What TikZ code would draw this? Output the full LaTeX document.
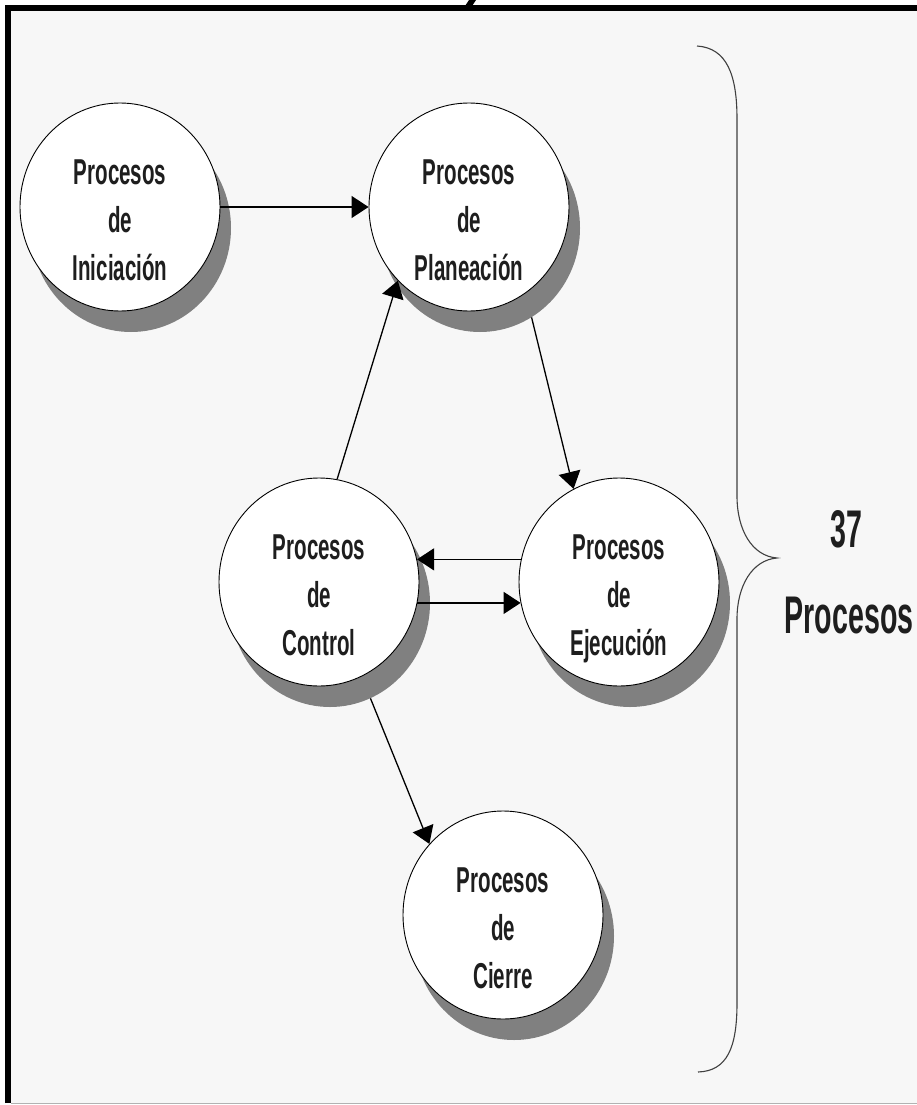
\documentclass[tikz,border=0pt]{standalone}
\usepackage{fontspec}
\newfontfamily\narrowbold[FakeStretch=0.57]{Liberation Sans}
\newfontfamily\bracefont[FakeStretch=0.54]{Liberation Sans}
\usetikzlibrary{arrows.meta,shapes.geometric}
\definecolor{paper}{HTML}{F7F7F7}
\definecolor{shade}{HTML}{808080}
\definecolor{ink}{HTML}{1E1E1E}
\begin{document}
\begin{tikzpicture}[x=1pt,y=-1pt,
  procbox/.style={ellipse, draw=black, line width=0.9pt, fill=white,
    minimum width=200pt, minimum height=208pt, inner sep=0pt},
  shadowbox/.style={ellipse, fill=shade, minimum width=200pt,
    minimum height=208pt, inner sep=0pt},
  flow/.style={line width=1.3pt, -{Triangle[length=17pt,width=22pt]}},
  proclabel/.style={font=\narrowbold\bfseries\fontsize{36}{48}\selectfont,
    text=ink, align=center, text depth=0pt, inner sep=0pt},
  bigtext/.style={font=\bracefont\bfseries\fontsize{53}{60}\selectfont,
    text=ink, inner sep=0pt, anchor=base}
]
\useasboundingbox (0,0) rectangle (917,1105);

% page and frame
\fill[white] (0,0) rectangle (917,1105);
\fill[paper] (8,8) rectangle (917,1103);
\draw[line width=6pt] (8,1103) -- (8,8) -- (917,8);
\draw[gray!60, line width=1pt] (11,1103) -- (917,1103);
\fill (469,0) -- (476,0) -- (472,6) -- (465,6) -- cycle;

% drop shadows
\node[shadowbox] (ini-sh)    at (131,228) {};
\node[shadowbox] (plan-sh)   at (480,228) {};
\node[shadowbox] (ctrl-sh)   at (330,603) {};
\node[shadowbox] (ejec-sh)   at (630,603) {};
\node[shadowbox] (cierre-sh) at (514,936) {};

% process groups
\node[procbox, label={[proclabel, yshift=-13pt]center:{Procesos\\de\\Iniciación}}] (ini) at (120,207) {};
\node[procbox, label={[proclabel, yshift=-13pt]center:{Procesos\\de\\Planeación}}] (plan) at (469,207) {};
\node[procbox, label={[proclabel, yshift=-13pt]center:{Procesos\\de\\Control}}] (ctrl) at (319,582) {};
\node[procbox, label={[proclabel, yshift=-13pt]center:{Procesos\\de\\Ejecución}}] (ejec) at (619,582) {};
\node[procbox, label={[proclabel, yshift=-13pt]center:{Procesos\\de\\Cierre}}] (cierre) at (503,915) {};

% flows
\draw[flow] (ini.east) -- (plan.west);
\draw[flow] (ctrl.80) -- (plan.226);
\draw[flow] (plan-sh.300) -- (ejec.116);
\draw[flow] (ejec.167) -- (ctrl.13);
\draw[flow] (ctrl.-12) -- (ejec.192);
\draw[flow] (ctrl-sh.293) -- (cierre.136);

% brace and total
\draw[line width=1.1pt, ink!85] (697,46) .. controls (727,48) and (737,75) .. (737,119)
  -- (737,496) .. controls (737,530) and (752,556) .. (777,558)
  .. controls (752,560) and (737,586) .. (737,619)
  -- (737,1003) .. controls (737,1048) and (727,1071) .. (698,1072);
\node[bigtext] (count) at (846,547) {37};
\node[bigtext] (total) at (849,633) {Procesos};
\end{tikzpicture}
\end{document}
